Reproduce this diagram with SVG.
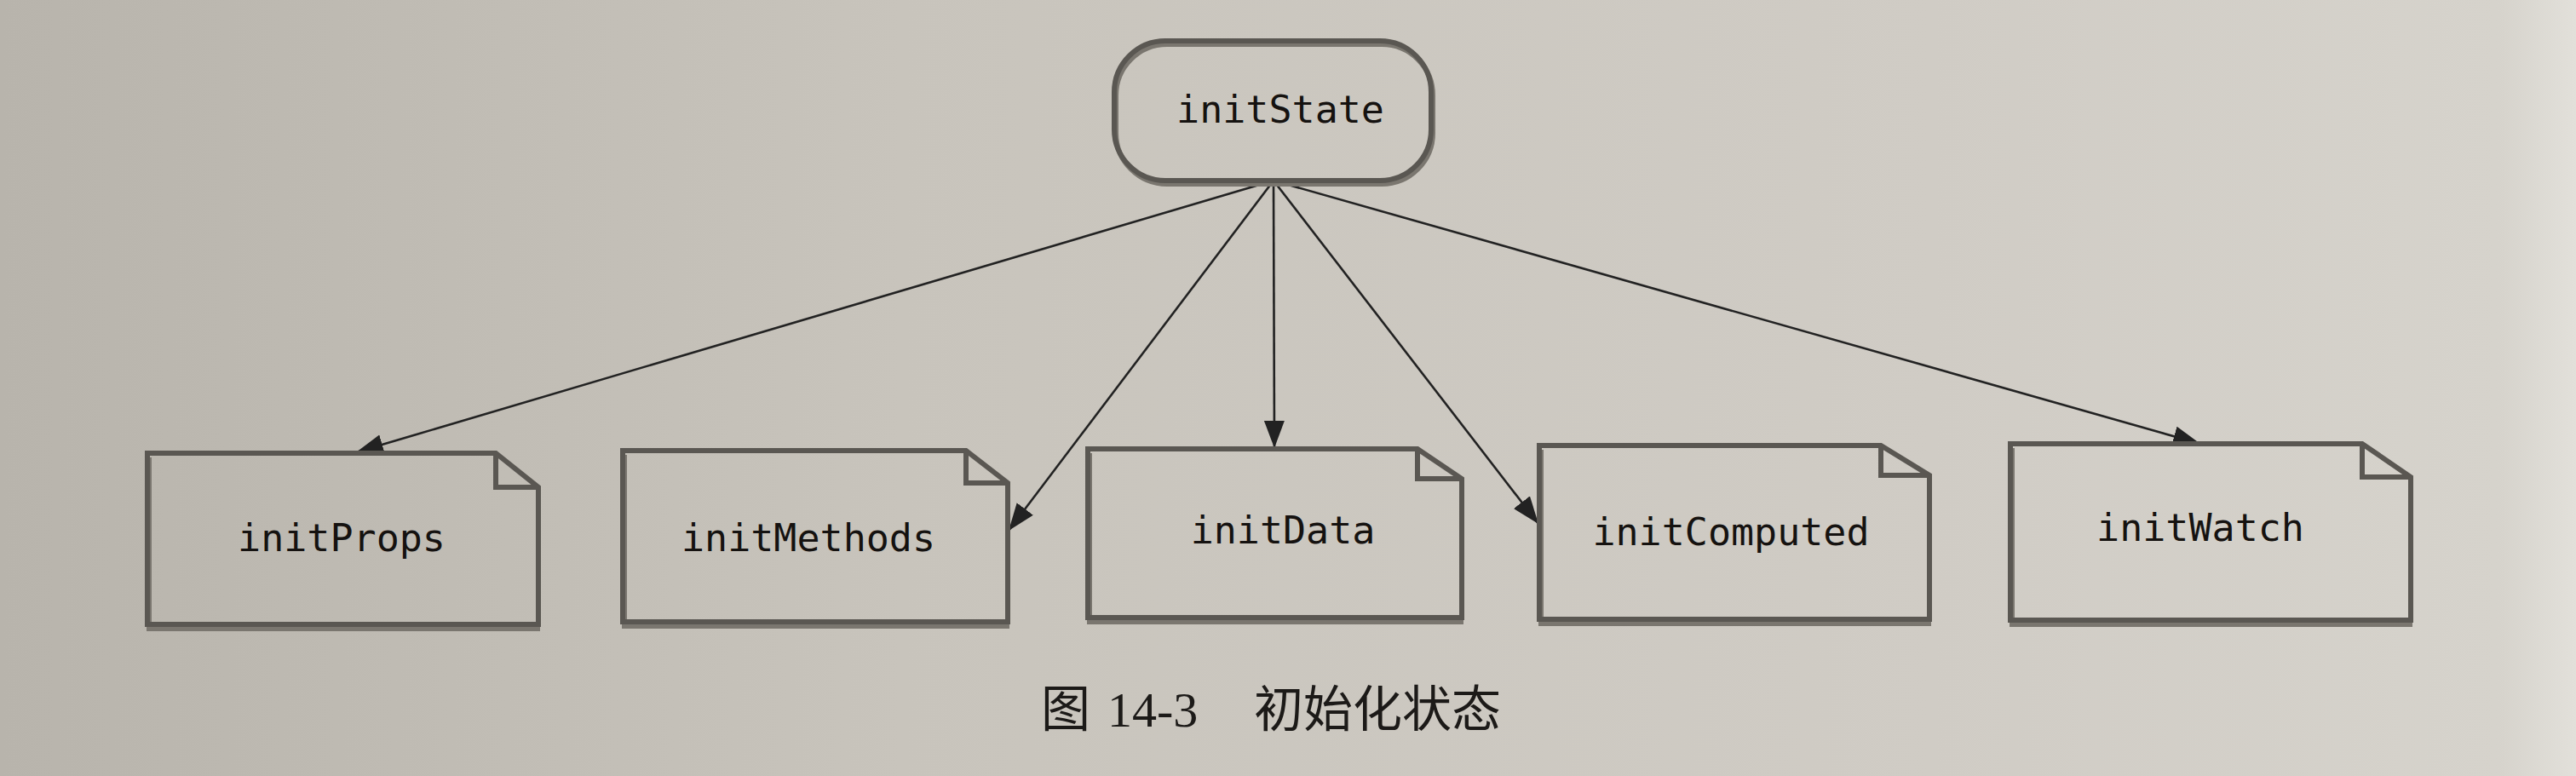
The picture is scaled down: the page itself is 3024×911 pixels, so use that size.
<svg xmlns="http://www.w3.org/2000/svg" width="3024" height="911" viewBox="0 0 3024 911">
<defs>
<linearGradient id="paper" x1="0" y1="0" x2="1" y2="0">
<stop offset="0" stop-color="#b8b4ac"/>
<stop offset="0.35" stop-color="#c8c4bc"/>
<stop offset="0.75" stop-color="#d0ccc5"/>
<stop offset="0.97" stop-color="#d6d3cc"/>
<stop offset="1" stop-color="#e2e0da"/>
</linearGradient>
<marker id="arr" markerUnits="userSpaceOnUse" markerWidth="34" markerHeight="26" refX="32" refY="12" orient="auto">
<path d="M0,0 L32,12 L0,24 Z" fill="#222"/>
</marker>
<style>
.box{fill:none;stroke:#5a5752;stroke-width:6;stroke-linejoin:miter}
.shadow{fill:none;stroke:#7a766f;stroke-width:6}
.lbl{font-family:"DejaVu Sans Mono","Liberation Mono",monospace;font-size:45px;fill:#151210;text-anchor:middle}
.edge{stroke:#222;stroke-width:2.6;fill:none;marker-end:url(#arr)}
.cap{font-size:58px;fill:#1c1a18}
</style>
</defs>
<rect x="0" y="0" width="3024" height="911" fill="url(#paper)"/>

<g id="connectors">
<line class="edge" x1="1495" y1="212" x2="418" y2="531"/>
<line class="edge" x1="1495" y1="212" x2="1184" y2="623"/>
<line class="edge" x1="1495" y1="212" x2="1496" y2="526"/>
<line class="edge" x1="1495" y1="212" x2="1806" y2="615"/>
<line class="edge" x1="1495" y1="212" x2="2583" y2="521"/>
</g>

<g id="initState">
<rect class="shadow" x="1310" y="52" width="372" height="164" rx="60" ry="60"/>
<rect class="box" x="1308" y="48" width="372" height="164" rx="60" ry="60"/>
<text class="lbl" x="1503" y="144">initState</text>
</g>

<g id="initProps">
<path class="shadow" d="M175,537 V738 H634"/>
<path class="box" d="M173,532 H582 L632,572 V733 H173 Z M582,532 V572 H632"/>
<text class="lbl" x="401" y="647">initProps</text>
</g>

<g id="initMethods">
<path class="shadow" d="M733,534 V735 H1185"/>
<path class="box" d="M731,529 H1134 L1183,567 V730 H731 Z M1134,529 V567 H1183"/>
<text class="lbl" x="949" y="647">initMethods</text>
</g>

<g id="initData">
<path class="shadow" d="M1279,532 V730 H1718"/>
<path class="box" d="M1277,527 H1664 L1716,562 V725 H1277 Z M1664,527 V562 H1716"/>
<text class="lbl" x="1506" y="638">initData</text>
</g>

<g id="initComputed">
<path class="shadow" d="M1809,528 V732 H2267"/>
<path class="box" d="M1807,523 H2208 L2265,558 V727 H1807 Z M2208,523 V558 H2265"/>
<text class="lbl" x="2032" y="640">initComputed</text>
</g>

<g id="initWatch">
<path class="shadow" d="M2362,526 V733 H2832"/>
<path class="box" d="M2360,521 H2773 L2830,560 V728 H2360 Z M2773,521 V560 H2830"/>
<text class="lbl" x="2583" y="635">initWatch</text>
</g>

<g id="caption">
<text class="cap" y="853"><tspan x="1222" font-family="'Noto Sans CJK SC',sans-serif">图</tspan><tspan x="1300" font-family="'Liberation Serif',serif">14-3</tspan><tspan x="1472" font-family="'Noto Sans CJK SC',sans-serif">初始化状态</tspan></text>
</g>
</svg>
